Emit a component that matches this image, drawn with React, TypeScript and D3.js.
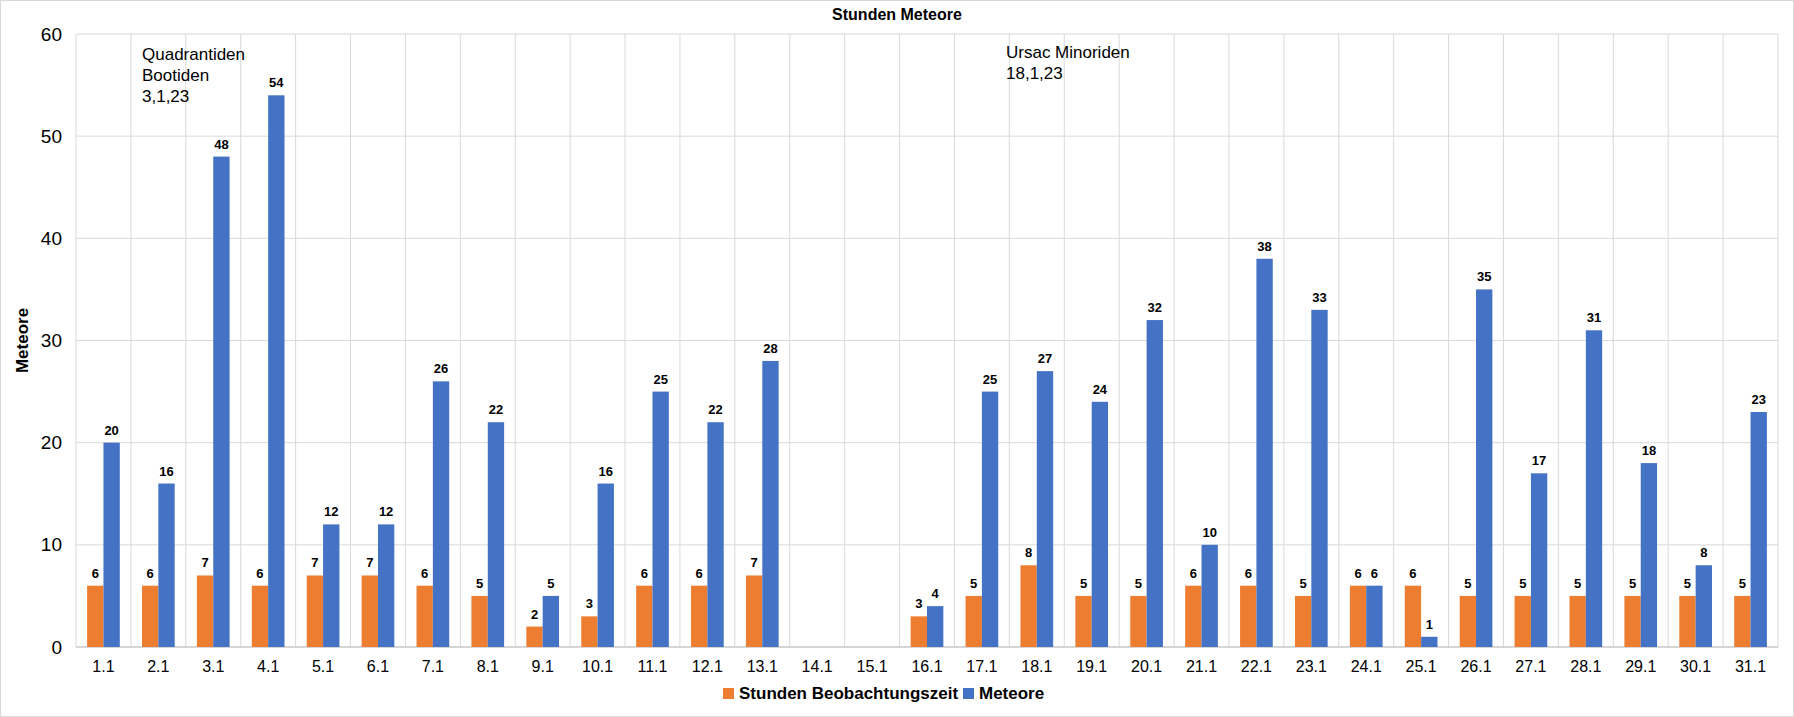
import * as d3 from 'd3';

const days = ['1.1','2.1','3.1','4.1','5.1','6.1','7.1','8.1','9.1','10.1','11.1','12.1','13.1','14.1','15.1','16.1','17.1','18.1','19.1','20.1','21.1','22.1','23.1','24.1','25.1','26.1','27.1','28.1','29.1','30.1','31.1'];
const stunden: (number | null)[] = [6,6,7,6,7,7,6,5,2,3,6,6,7,null,null,3,5,8,5,5,6,6,5,6,6,5,5,5,5,5,5];
const meteore: (number | null)[] = [20,16,48,54,12,12,26,22,5,16,25,22,28,null,null,4,25,27,24,32,10,38,33,6,1,35,17,31,18,8,23];
const yTicks = [0, 10, 20, 30, 40, 50, 60];

const W = 1794, H = 717;
const L = 76, R = 1778, T = 34, B = 647;
const ORANGE = '#ed7d31', BLUE = '#4472c4';
const FONT = 'Arial, "Liberation Sans", sans-serif';

export default function App() {
  const x = d3.scaleBand<string>().domain(days).range([L, R]).paddingInner(0).paddingOuter(0);
  const y = d3.scaleLinear().domain([0, 60]).range([B, T]);
  const sub = d3.scaleBand<string>().domain(['s', 'm']).range([0, x.bandwidth()]).paddingOuter(0.68).paddingInner(0);
  const series = [
    { key: 's', values: stunden, color: ORANGE },
    { key: 'm', values: meteore, color: BLUE },
  ];
  return (
    <svg width={W} height={H} style={{ position: 'absolute', left: 0, top: 0, background: '#fff' }} fontFamily={FONT}>
      <rect x={0.5} y={0.5} width={W - 1} height={H - 1} fill="#fff" stroke="#d9d9d9" />
      <text x={W / 2} y={20} textAnchor="middle" fontSize={16} fontWeight="bold">Stunden Meteore</text>
      {yTicks.map(t => (
        <g key={t}>
          <line x1={L} x2={R} y1={y(t)} y2={y(t)} stroke="#d9d9d9" />
          <text x={L - 14} y={y(t)} dy="0.35em" textAnchor="end" fontSize={19}>{t}</text>
        </g>
      ))}
      {days.map(d => (
        <g key={d}>
          <line x1={x(d)!} x2={x(d)!} y1={T} y2={B} stroke="#d9d9d9" />
          <text x={x(d)! + x.bandwidth() / 2} y={B + 25} textAnchor="middle" fontSize={16}>{d}</text>
        </g>
      ))}
      <line x1={R} x2={R} y1={T} y2={B} stroke="#d9d9d9" />
      <line x1={L} x2={R} y1={B} y2={B} stroke="#bfbfbf" />
      {series.map(s => days.map((d, i) => {
        const v = s.values[i];
        if (v == null) return null;
        const bx = x(d)! + sub(s.key)!;
        return (
          <g key={s.key + d}>
            <rect x={bx} y={y(v)} width={sub.bandwidth()} height={B - y(v)} fill={s.color} />
            <text x={bx + sub.bandwidth() / 2} y={y(v) - 8} textAnchor="middle" fontSize={13} fontWeight="bold">{v}</text>
          </g>
        );
      }))}
      <text transform={`translate(28,${(T + B) / 2}) rotate(-90)`} textAnchor="middle" fontSize={17} fontWeight="bold">Meteore</text>
      <g fontSize={17}>
        <text x={142} y={60}>Quadrantiden</text>
        <text x={142} y={81}>Bootiden</text>
        <text x={142} y={102}>3,1,23</text>
        <text x={1006} y={58}>Ursac Minoriden</text>
        <text x={1006} y={79}>18,1,23</text>
      </g>
      <g fontSize={17} fontWeight="bold">
        <rect x={723} y={688} width={11} height={11} fill={ORANGE} />
        <text x={739} y={699}>Stunden Beobachtungszeit</text>
        <rect x={963} y={688} width={11} height={11} fill={BLUE} />
        <text x={979} y={699}>Meteore</text>
      </g>
    </svg>
  );
}
